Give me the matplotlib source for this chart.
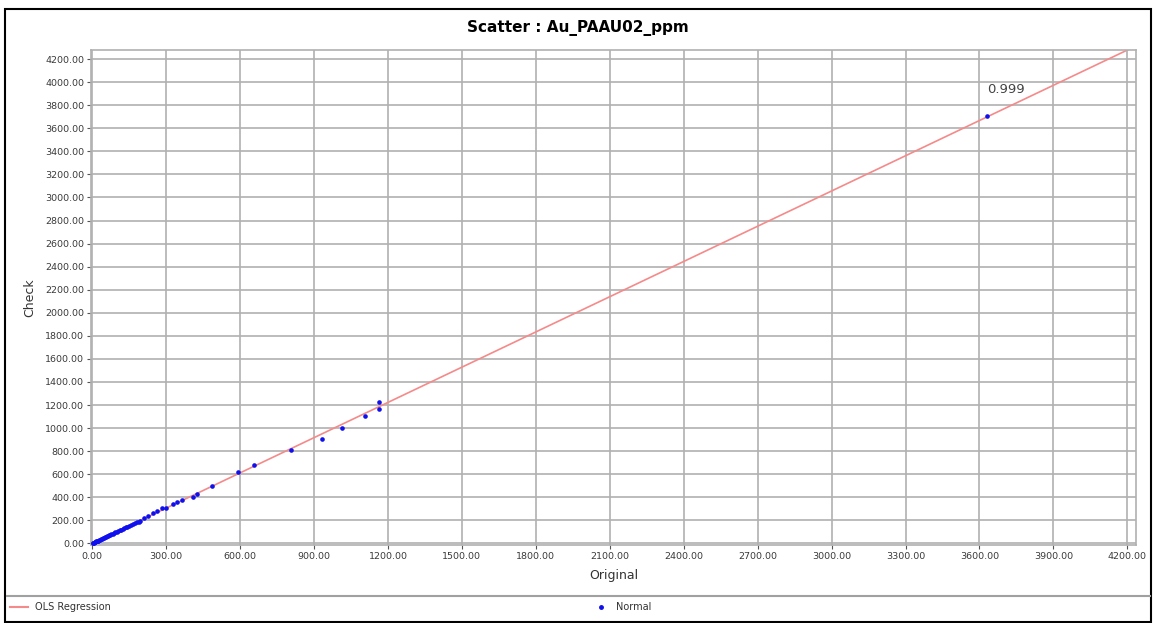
import numpy as np
import matplotlib.pyplot as plt
from matplotlib.lines import Line2D
from matplotlib.patches import Rectangle

# values
original = [2, 5, 8, 10, 13, 16, 19, 22, 25, 28, 32, 35, 39, 43, 47, 51, 55, 60, 64,
            68, 73, 78, 83, 88, 94, 99, 105, 111, 117, 124, 130, 137, 143, 150, 158,
            165, 172, 180, 188, 195, 211, 228, 248, 262, 285, 300, 329, 343, 363,
            407, 427, 488, 593, 658, 807, 932, 1012, 1107, 1163, 1163, 3630]
check = [2, 5, 7, 11, 13, 17, 19, 23, 25, 29, 32, 36, 40, 44, 48, 52, 56, 61, 65,
         70, 74, 79, 85, 89, 96, 101, 107, 113, 119, 126, 132, 139, 145, 153, 160,
         168, 175, 182, 188, 197, 220, 235, 264, 284, 307, 307, 345, 360, 380,
         400, 432, 501, 617, 678, 806, 907, 1003, 1107, 1168, 1229, 3710]
corr_label = "0.999"

x_ticks = np.arange(0, 4201, 300)
y_ticks = np.arange(0, 4201, 200)

fig = plt.figure(figsize=(11.56, 6.23), dpi=100)
ax = fig.add_axes([0.0787, 0.125, 0.904, 0.795])

ox = np.array(original, dtype=float)
cy = np.array(check, dtype=float)
slope, intercept = np.polyfit(ox, cy, 1)
xl = np.array([0, 4240])
ax.plot(xl, slope * xl + intercept, color='#f58a8a', lw=1.2, zorder=2)
ax.scatter(ox, cy, s=11, color='#1010ee', zorder=3, linewidths=0)
ax.annotate(corr_label, (ox[-1], cy[-1]), xytext=(0, 16), textcoords='offset points',
            fontsize=9.5, color='#444444')

ax.set_xlim(-5, 4235)
ax.set_ylim(-15, 4280)
ax.set_xticks(x_ticks)
ax.set_yticks(y_ticks)
ax.set_xticklabels([f"{v:.2f}" for v in x_ticks])
ax.set_yticklabels([f"{v:.2f}" for v in y_ticks])
ax.tick_params(labelsize=6.8, colors='#555555', labelcolor='#3a3a3a', length=3, pad=2)
ax.grid(True, color='#b0b0b0', lw=1.2)
ax.set_axisbelow(True)
for s in ax.spines.values():
    s.set_color('#b0b0b0')
    s.set_linewidth(1.2)

ax.set_xlabel('Original', fontsize=9, color='#333333', labelpad=6)
ax.set_ylabel('Check', fontsize=9, color='#333333', labelpad=6)
fig.text(0.5, 0.955, 'Scatter : Au_PAAU02_ppm', ha='center', va='center',
         fontsize=11, fontweight='bold')

# legend strip at the bottom
fig.add_artist(Line2D([0.006, 0.995], [0.044, 0.044], color='#a0a0a0', lw=1.5))
fig.add_artist(Line2D([0.009, 0.024], [0.025, 0.025], color='#f58a8a', lw=1.5))
fig.text(0.03, 0.025, 'OLS Regression', fontsize=7, va='center', color='#333333')
fig.add_artist(Line2D([0.52], [0.025], marker='o', ms=2.5, color='#1010ee', lw=0))
fig.text(0.533, 0.025, 'Normal', fontsize=7, va='center', color='#333333')

# outer frame
fig.add_artist(Rectangle((0.004, 0.002), 0.992, 0.984, fill=False, edgecolor='black',
                         lw=1.5, transform=fig.transFigure))

fig.savefig('out.png', dpi=100)
